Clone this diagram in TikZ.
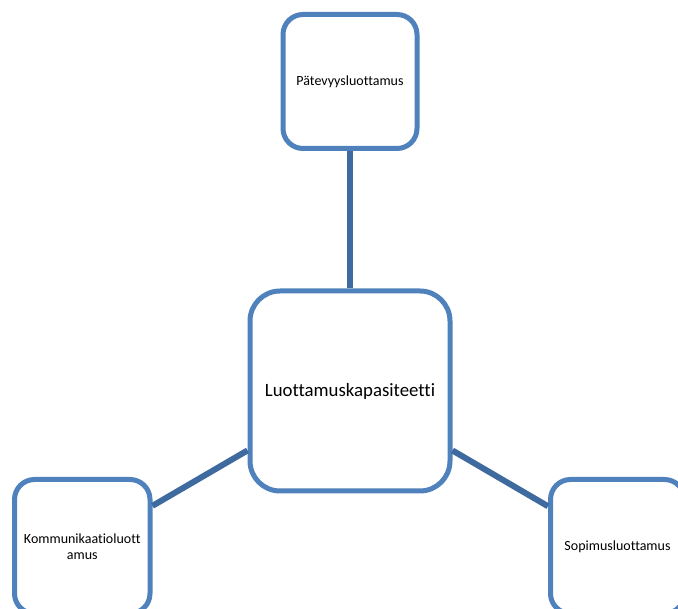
\documentclass[tikz,border=0pt]{standalone}
\usepackage{fontspec}
\setmainfont[Ligatures=NoCommon]{Carlito}
\definecolor{boxblue}{HTML}{4F81BD}
\definecolor{linkblue}{HTML}{3E6A9F}
\begin{document}
\begin{tikzpicture}[x=1pt,y=-1pt,
  smallbox/.style={draw=boxblue, line width=5pt, fill=white, rounded corners=20pt,
    minimum width=134pt, minimum height=134pt, inner sep=0pt, align=center,
    font=\fontsize{14}{15.5}\selectfont},
  bigbox/.style={draw=boxblue, line width=5pt, fill=white, rounded corners=30pt,
    minimum width=200pt, minimum height=200pt, inner sep=0pt, align=center,
    font=\fontsize{18.8}{22}\selectfont},
  link/.style={draw=linkblue, line width=6pt}]
\useasboundingbox (0,0) rectangle (678,609);
\begin{scope}
\clip (0,0) rectangle (678,609);
\node[bigbox] (c) at (350,391) {Luottamuskapasiteetti};
\node[smallbox] (t) at (350,81.5) {Pätevyysluottamus};
\node[smallbox, minimum width=135.5pt] (l) at (82.25,546.5) {Kommunikaatioluott\\amus};
\node[smallbox] (r) at (617.5,546.5) {Sopimusluottamus};
\draw[link] (c) -- (t);
\draw[link] (c) -- (l);
\draw[link] (c) -- (r);
\end{scope}
\end{tikzpicture}
\end{document}
